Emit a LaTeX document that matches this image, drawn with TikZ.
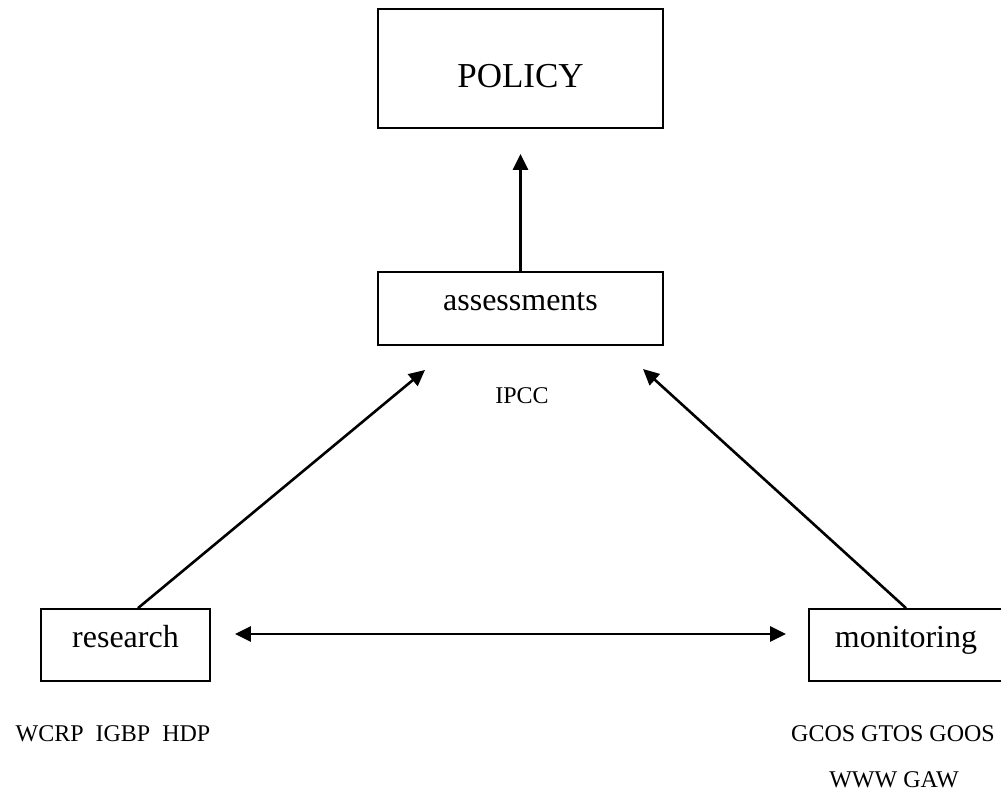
\documentclass[tikz,border=0pt]{standalone}
\usepackage{fontspec}
\setmainfont{Liberation Serif}
\usetikzlibrary{arrows.meta, positioning}

\begin{document}
\begin{tikzpicture}[
  x=0.5pt, y=-0.5pt,
  box/.style={draw, line width=0.9pt, inner sep=0pt, align=center,
              font=\fontsize{16}{19}\selectfont, text height=12pt, text depth=10pt},
  policybox/.style={box, font=\fontsize{17.5}{21}\selectfont,
              text height=19.5pt, text depth=0pt},
  lbl/.style={inner sep=0pt, anchor=base, font=\fontsize{12}{14}\selectfont},
  link/.style={line width=1.3pt, -{Triangle[length=8pt, width=7.5pt]}},
  both/.style={line width=1.3pt,
               {Triangle[length=8pt, width=7.5pt]}-{Triangle[length=8pt, width=7.5pt]}}]

  \useasboundingbox (0,0) rectangle (1001,792);

  % top
  \node[policybox, minimum width=142.5pt, minimum height=59.5pt] (policy) at (520.5,68.5) {POLICY};
  \node[box, minimum width=142.5pt, minimum height=36.5pt] (assess) at (520.5,308.5) {assessments};
  \node[lbl] (ipcc) at (522,403) {IPCC};

  % bottom
  \node[box, minimum width=84.5pt, minimum height=36pt] (research) at (125.5,645) {research};
  \node[box, minimum width=97pt, minimum height=36pt] (monitoring) at (906,645) {monitoring};
  \node[lbl] (wcrp) at (113,741) {WCRP\ \ IGBP\ \ HDP};
  \node[lbl] (gcos) at (893,741) {GCOS GTOS GOOS};
  \node[lbl] (www) at (894,787) {WWW GAW};

  % arrows
  \coordinate (ltip) at (425,370);
  \coordinate (rtip) at (643,369);
  \draw[link] (assess.north) -- ([yshift=-12.5pt]policy.south);
  \draw[link] ([xshift=6.25pt]research.north) -- (ltip);
  \draw[link] (monitoring.north) -- (rtip);
  \draw[both] ([xshift=12pt, yshift=5.5pt]research.east) -- ([xshift=-11pt, yshift=5.5pt]monitoring.west);
\end{tikzpicture}
\end{document}
